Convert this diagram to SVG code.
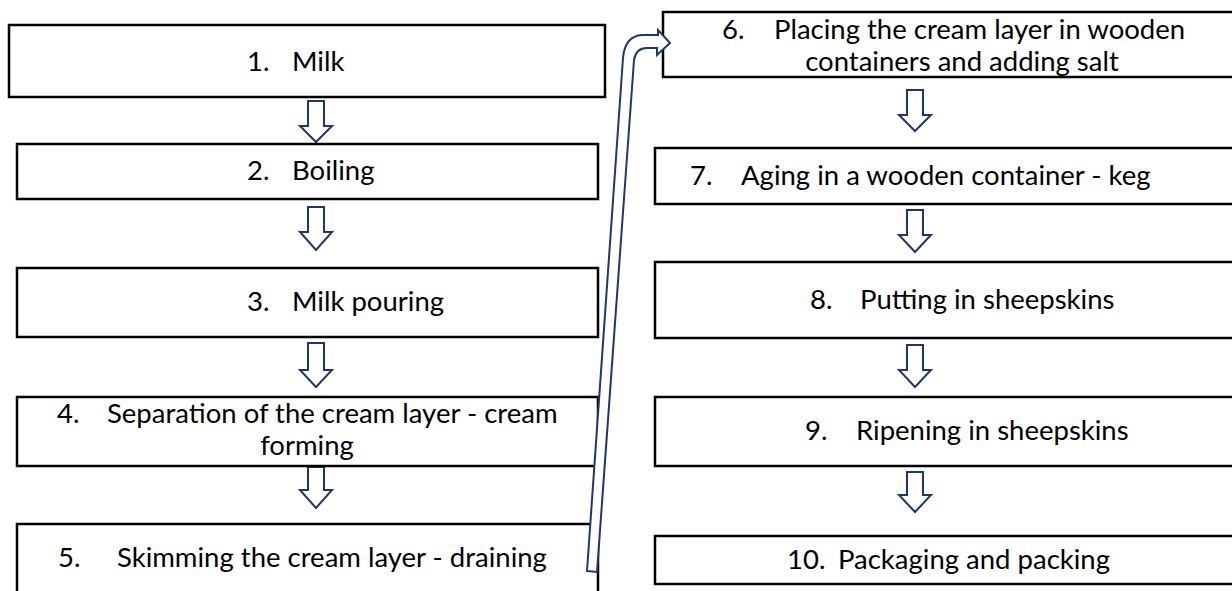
<svg xmlns="http://www.w3.org/2000/svg" width="1232" height="591" viewBox="0 0 1232 591">
<style>
.box{fill:#fff;stroke:#000;stroke-width:2.5}
.arr{fill:#fff;stroke:#1f3864;stroke-width:2;stroke-linejoin:miter}
.t{font-family:Lato,"Liberation Sans",sans-serif;font-size:27.5px;fill:#000}
</style>
<rect x="0" y="0" width="1232" height="591" fill="#fff"/>
<g id="connectors">
<path class="arr" d="M316 101 h-8 v25 h-8 l16 16 l16 -16 h-8 v-25 z"/>
<path class="arr" d="M316 207 h-8 v25 h-8 l16 18 l16 -18 h-8 v-25 z"/>
<path class="arr" d="M316 343 h-8 v27 h-8 l16 17 l16 -17 h-8 v-27 z"/>
<path class="arr" d="M316 467 h-8 v23 h-8 l16 18 l16 -18 h-8 v-23 z"/>
<path class="arr" d="M915 90 h-8 v25 h-8 l16 16 l16 -16 h-8 v-25 z"/>
<path class="arr" d="M915 210 h-8 v25 h-8 l16 17 l16 -17 h-8 v-25 z"/>
<path class="arr" d="M915 345 h-8 v25 h-8 l16 17 l16 -17 h-8 v-25 z"/>
<path class="arr" d="M915 472 h-8 v23 h-8 l16 17 l16 -17 h-8 v-23 z"/>
</g>
<g id="node1"><rect class="box" x="9" y="25" width="596" height="72"/><text class="t" y="71"><tspan x="247">1.</tspan><tspan x="292">Milk</tspan></text></g>
<g id="node2"><rect class="box" x="17" y="144" width="581" height="55"/><text class="t" y="180"><tspan x="247">2.</tspan><tspan x="292">Boiling</tspan></text></g>
<g id="node3"><rect class="box" x="17" y="268" width="581" height="69"/><text class="t" y="311"><tspan x="247">3.</tspan><tspan x="292">Milk pouring</tspan></text></g>
<g id="node4"><rect class="box" x="17" y="397" width="581" height="69"/><text class="t" y="423"><tspan x="57">4.</tspan><tspan x="107">Separation of the cream layer - cream</tspan></text><text class="t" x="307" y="455" text-anchor="middle">forming</text></g>
<g id="node5"><rect class="box" x="17" y="524" width="581" height="80"/><text class="t" y="567"><tspan x="58">5.</tspan><tspan x="117">Skimming the cream layer - draining</tspan></text></g>
<g id="node6"><rect class="box" x="663" y="12" width="590" height="65"/><text class="t" y="39"><tspan x="722">6.</tspan><tspan x="774">Placing the cream layer in wooden</tspan></text><text class="t" x="962" y="71" text-anchor="middle">containers and adding salt</text></g>
<g id="node7"><rect class="box" x="655" y="148" width="600" height="56"/><text class="t" y="185"><tspan x="690">7.</tspan><tspan x="741">Aging in a wooden container - keg</tspan></text></g>
<g id="node8"><rect class="box" x="655" y="262" width="600" height="76"/><text class="t" y="309"><tspan x="810">8.</tspan><tspan x="860">Putting in sheepskins</tspan></text></g>
<g id="node9"><rect class="box" x="655" y="397" width="600" height="69"/><text class="t" y="440"><tspan x="805">9.</tspan><tspan x="856">Ripening in sheepskins</tspan></text></g>
<g id="node10"><rect class="box" x="655" y="536" width="600" height="48"/><text class="t" y="569"><tspan x="787">10.</tspan><tspan x="838">Packaging and packing</tspan></text></g>
<g id="connector-5-6">
<path class="arr" d="M587 571 L597 572 L634 60 Q636 48 647 48 L657 48 L657 55 L670 43 L658 30 L658 35 L642 35 Q625 36 623 58 Z"/>
</g>
</svg>
